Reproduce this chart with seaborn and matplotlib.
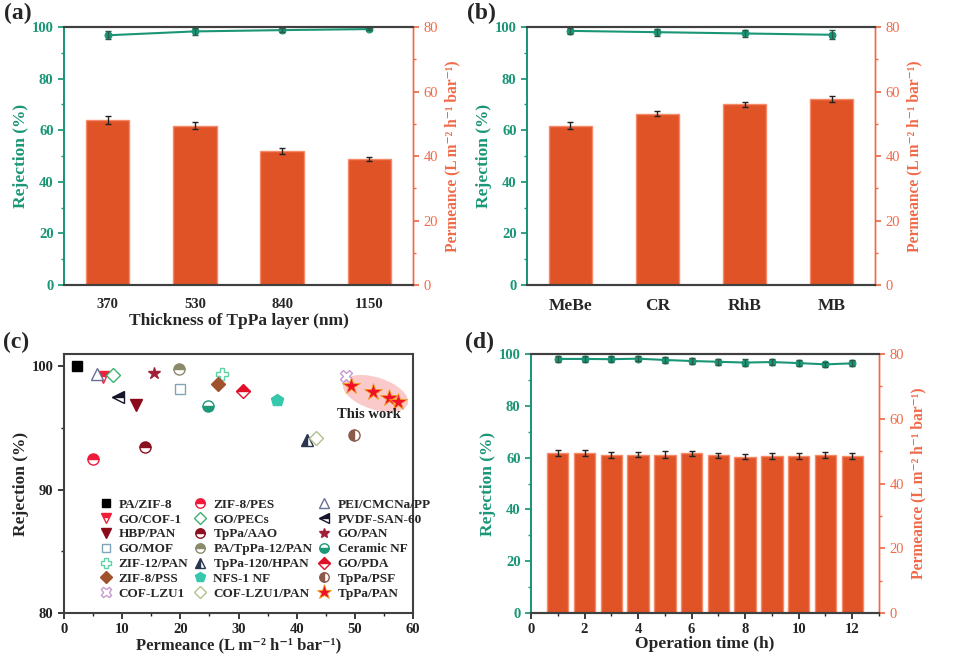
import numpy as np
import pandas as pd
import matplotlib
matplotlib.use("Agg")
import matplotlib.pyplot as plt
import matplotlib.transforms as mtransforms
from matplotlib.patches import Ellipse
from matplotlib.ticker import MultipleLocator
import seaborn as sns

sns.set_theme(style="white")
plt.rcParams['font.family'] = ['Liberation Serif', 'DejaVu Serif']

# ---------------- data ----------------
# (a)
thickness = ["370", "530", "840", "1150"]
perm_a = [51.2, 49.4, 41.5, 39.1]
perm_a_err = [1.2, 1.0, 0.9, 0.7]
rej_a = [96.8, 98.3, 98.8, 99.2]
rej_a_err = [1.5, 1.2, 0.8, 0.5]

# (b)
dyes = ["MeBe", "CR", "RhB", "MB"]
perm_b = [49.4, 53.1, 56.0, 57.6]
perm_b_err = [1.0, 0.8, 0.8, 0.9]
rej_b = [98.5, 98.0, 97.5, 97.0]
rej_b_err = [1.2, 1.3, 1.5, 1.8]

# (d)
hours = [1, 2, 3, 4, 5, 6, 7, 8, 9, 10, 11, 12]
perm_d = [49.4, 49.4, 48.9, 48.9, 48.9, 49.3, 48.7, 48.3, 48.6, 48.4, 48.8, 48.5]
perm_d_err = [1.0, 0.9, 0.9, 0.8, 1.0, 0.7, 0.8, 0.8, 0.9, 0.9, 0.8, 0.9]
rej_d = [98.1, 98.1, 98.0, 98.2, 97.7, 97.3, 97.0, 96.7, 96.9, 96.5, 96.0, 96.4]
rej_d_err = [1.2, 1.2, 1.2, 1.0, 1.2, 1.0, 1.2, 1.3, 1.2, 1.3, 1.1, 1.1]

# (c) literature comparison (legend column-major order)
membranes = ["PA/ZIF-8", "GO/COF-1", "HBP/PAN", "GO/MOF", "ZIF-12/PAN", "ZIF-8/PSS", "COF-LZU1",
             "ZIF-8/PES", "GO/PECs", "TpPa/AAO", "PA/TpPa-12/PAN", "TpPa-120/HPAN", "NFS-1 NF", "COF-LZU1/PAN",
             "PEI/CMCNa/PP", "PVDF-SAN-60", "GO/PAN", "Ceramic NF", "GO/PDA", "TpPa/PSF", "TpPa/PAN"]
perm_c = [[2.2], [6.7], [12.3], [19.9], [27.2], [26.5], [48.5],
          [5.0], [8.5], [13.9], [19.7], [41.7], [36.7], [43.3],
          [5.6], [9.3], [15.5], [24.7], [30.7], [49.9], [49.3, 53.2, 55.8, 57.5]]
rej_c = [[100.0], [99.1], [96.9], [98.2], [99.4], [98.6], [99.2],
         [92.5], [99.3], [93.5], [99.8], [94.0], [97.3], [94.2],
         [99.4], [97.5], [99.5], [96.8], [98.0], [94.4], [98.4, 97.9, 97.4, 97.1]]

# marker styles for (c)
mstyles = {
    "PA/ZIF-8": dict(marker="s", color="black", fillstyle="full", ms=7),
    "GO/COF-1": dict(marker="v", color="#f0203a", fillstyle="top", ms=8),
    "HBP/PAN": dict(marker="v", color="#8b0a1a", fillstyle="full", ms=8),
    "GO/MOF": dict(marker="s", color="#7fa6b8", fillstyle="none", ms=7),
    "ZIF-12/PAN": dict(marker="P", color="#5fd3a6", fillstyle="none", ms=9),
    "ZIF-8/PSS": dict(marker="D", color="#a0522d", fillstyle="full", ms=7),
    "COF-LZU1": dict(marker="X", color="#c79ad0", fillstyle="none", ms=9),
    "ZIF-8/PES": dict(marker="o", color="#f01a3a", fillstyle="top", ms=8),
    "GO/PECs": dict(marker="D", color="#3cb36e", fillstyle="none", ms=7),
    "TpPa/AAO": dict(marker="o", color="#8b1020", fillstyle="top", ms=8),
    "PA/TpPa-12/PAN": dict(marker="o", color="#8a8a6a", fillstyle="top", ms=8),
    "TpPa-120/HPAN": dict(marker="^", color="#2b3550", fillstyle="left", ms=8),
    "NFS-1 NF": dict(marker="p", color="#36c8ac", fillstyle="full", ms=9),
    "COF-LZU1/PAN": dict(marker="D", color="#b0c090", fillstyle="none", ms=7),
    "PEI/CMCNa/PP": dict(marker="^", color="#6a6f95", fillstyle="none", ms=8),
    "PVDF-SAN-60": dict(marker="<", color="#15152e", fillstyle="top", ms=8),
    "GO/PAN": dict(marker="*", color="#a0203a", fillstyle="full", ms=9),
    "Ceramic NF": dict(marker="o", color="#1e9878", fillstyle="bottom", ms=8),
    "GO/PDA": dict(marker="D", color="#e0102a", fillstyle="top", ms=7),
    "TpPa/PSF": dict(marker="o", color="#8b5a4a", fillstyle="left", ms=8),
    "TpPa/PAN": dict(marker="*", color="#f0102a", fillstyle="full", ms=13),
}

GREEN = "#1a9676"
BAR = "#e05327"
BAR_EDGE = "#f58a6a"
ORANGE = "#f06a48"
DARK = "#404040"
PERM_LABEL = "Permeance (L m\u207B\u00B2 h\u207B\u00B9 bar\u207B\u00B9)"

fig = plt.figure(figsize=(9.54, 6.59), dpi=100)

def style_dual(ax, ax2):
    ax.set_ylim(0, 100)
    ax2.set_ylim(0, 80)
    ax.yaxis.set_major_locator(MultipleLocator(20))
    ax.yaxis.set_minor_locator(MultipleLocator(10))
    ax2.yaxis.set_major_locator(MultipleLocator(20))
    ax2.yaxis.set_minor_locator(MultipleLocator(10))
    for a in (ax, ax2):
        a.spines['top'].set_color(DARK)
        a.spines['bottom'].set_color(DARK)
        a.spines['top'].set_linewidth(1.5)
        a.spines['bottom'].set_linewidth(1.5)
        a.spines['left'].set_color(GREEN)
        a.spines['left'].set_linewidth(1.3)
        a.spines['right'].set_color(ORANGE)
        a.spines['right'].set_linewidth(1.0)
    ax.tick_params(axis='y', which='both', direction='out', colors=GREEN, left=True,
                   labelsize=10.5, length=4)
    ax.tick_params(axis='y', which='minor', length=2.5)
    ax2.tick_params(axis='y', which='both', direction='out', colors=ORANGE, right=True,
                    labelsize=10.5, length=4)
    ax2.tick_params(axis='y', which='minor', length=2.5)
    for lab in ax.get_yticklabels():
        lab.set_fontweight('bold')
    ax.set_ylabel("Rejection (%)", color=GREEN, fontsize=12.5, fontweight='bold', labelpad=2)
    ax2.set_ylabel(PERM_LABEL, color=ORANGE, fontsize=11.2, fontweight='bold', labelpad=5)
    ax.set_zorder(ax2.get_zorder() + 1)
    ax.patch.set_visible(False)
    ax.grid(False)
    ax2.grid(False)


def dual_panel(rect, cats, perm, perm_err, rej, rej_err, xlabel, native=False):
    ax = fig.add_axes(rect)
    ax2 = ax.twinx()
    df = pd.DataFrame({"cat": cats, "perm": perm})
    if native:
        sns.barplot(data=df, x="cat", y="perm", ax=ax2, color=BAR, native_scale=True,
                    width=0.8, edgecolor=BAR_EDGE, linewidth=1.0, saturation=1)
    else:
        sns.barplot(data=df, x="cat", y="perm", ax=ax2, color=BAR, order=cats,
                    width=0.5, edgecolor=BAR_EDGE, linewidth=1.0, saturation=1)
    xs = np.array(cats, dtype=float) if native else np.arange(len(cats))
    ax2.errorbar(xs, perm, yerr=perm_err, fmt='none', ecolor="#222222", elinewidth=1,
                 capsize=2.5, capthick=1)
    dfl = pd.DataFrame({"x": xs, "rej": rej})
    sns.lineplot(data=dfl, x="x", y="rej", ax=ax, color=GREEN, marker='o', markersize=5,
                 markeredgecolor=GREEN, linewidth=1.5)
    ax.errorbar(xs, rej, yerr=rej_err, fmt='none', ecolor="#2a5a4a", elinewidth=1,
                capsize=2.5, capthick=1)
    style_dual(ax, ax2)
    ax.set_xlabel(xlabel, fontsize=12.5, fontweight='bold', labelpad=2)
    ax2.set_xlabel("")
    return ax, ax2

# (a)
ax_a, ax_a2 = dual_panel([0.0671, 0.5675, 0.3658, 0.3915], thickness, perm_a, perm_a_err,
                         rej_a, rej_a_err, "Thickness of TpPa layer (nm)")
ax_a.set_xlim(-0.5, 3.5)
ax_a.set_xticks(range(len(thickness)))
ax_a.set_xticklabels(thickness, fontweight='bold', fontsize=10.5)
ax_a.tick_params(axis='x', bottom=False, pad=3)

# (b)
ax_b, ax_b2 = dual_panel([0.5524, 0.5675, 0.3648, 0.3915], dyes, perm_b, perm_b_err,
                         rej_b, rej_b_err, "")
ax_b.set_xlim(-0.5, 3.5)
ax_b.set_xticks(range(len(dyes)))
ax_b.set_xticklabels(dyes, fontweight='bold', fontsize=12.5)
ax_b.tick_params(axis='x', bottom=False, pad=3)

# (d)
ax_d, ax_d2 = dual_panel([0.5566, 0.0698, 0.3648, 0.393], hours, perm_d, perm_d_err,
                         rej_d, rej_d_err, "Operation time (h)", native=True)
ax_d.set_xlim(0, 13)
ax_d2.set_xlim(0, 13)
ax_d.xaxis.set_major_locator(MultipleLocator(2))
ax_d.xaxis.set_minor_locator(MultipleLocator(1))
ax_d.tick_params(axis='x', which='both', bottom=True, direction='out', colors='#222222',
                 labelsize=10.5, length=4)
ax_d.tick_params(axis='x', which='minor', length=2.5)
for lab in ax_d.get_xticklabels():
    lab.set_fontweight('bold')
ax_d.xaxis.labelpad = 0

# (c)
ax_c = fig.add_axes([0.0671, 0.0698, 0.3658, 0.393])
tp_x = np.mean(perm_c[-1])
tp_y = np.mean(rej_c[-1])
ax_c.set_xlim(0, 60)
ax_c.set_ylim(80, 101)
trans = fig.dpi_scale_trans + mtransforms.ScaledTranslation(tp_x - 0.4, tp_y + 0.1, ax_c.transData)
ax_c.add_patch(Ellipse((0, 0), width=0.68, height=0.32, angle=-18, transform=trans,
                       facecolor="#f9b8b8", edgecolor='none', alpha=0.75, zorder=1))
for name, xv, yv in zip(membranes, perm_c, rej_c):
    st = mstyles[name]
    dfc = pd.DataFrame({"x": xv, "y": yv})
    ax_c.plot(dfc["x"], dfc["y"], linestyle='none', marker=st["marker"], markersize=st["ms"],
              color=st["color"], markerfacecolor=st["color"] if st["fillstyle"] != "none" else "white",
              markerfacecoloralt="white", fillstyle=st["fillstyle"] if st["fillstyle"] != "none" else "full",
              markeredgecolor=st["color"] if name != "TpPa/PAN" else "#f0a020",
              markeredgewidth=1.0 if name != "TpPa/PAN" else 0.6,
              label=name, zorder=3)
ax_c.text(tp_x - 1.5, 96.1, "This work", fontsize=10.5, fontweight='bold', ha='center',
          va='center', color='#222222')
ax_c.xaxis.set_major_locator(MultipleLocator(10))
ax_c.xaxis.set_minor_locator(MultipleLocator(5))
ax_c.yaxis.set_major_locator(MultipleLocator(10))
ax_c.yaxis.set_minor_locator(MultipleLocator(5))
ax_c.tick_params(axis='both', which='both', direction='out', bottom=True, left=True,
                 labelsize=10.5, colors='#222222', length=4)
ax_c.tick_params(axis='both', which='minor', length=2.5)
for lab in ax_c.get_xticklabels() + ax_c.get_yticklabels():
    lab.set_fontweight('bold')
for s in ax_c.spines.values():
    s.set_color(DARK)
    s.set_linewidth(1.5)
ax_c.set_xlabel(PERM_LABEL, fontsize=12, fontweight='bold', labelpad=1)
ax_c.set_ylabel("Rejection (%)", fontsize=12.5, fontweight='bold', labelpad=2)
ax_c.grid(False)
leg = ax_c.legend(ncol=3, loc='lower left', bbox_to_anchor=(0.07, 0.015), frameon=False,
                  prop={'weight': 'bold', 'size': 9.5}, handletextpad=0.4, columnspacing=0.3,
                  labelspacing=0.2, handlelength=1.2, markerscale=0.85, borderpad=0.2)

# panel labels
for lbl, (x, y) in {"(a)": (0.004, 0.995), "(b)": (0.49, 0.995),
                    "(c)": (0.003, 0.497), "(d)": (0.487, 0.497)}.items():
    fig.text(x, y, lbl, fontsize=17, fontweight='bold', va='top', ha='left')

fig.savefig("out.png", dpi=100)
